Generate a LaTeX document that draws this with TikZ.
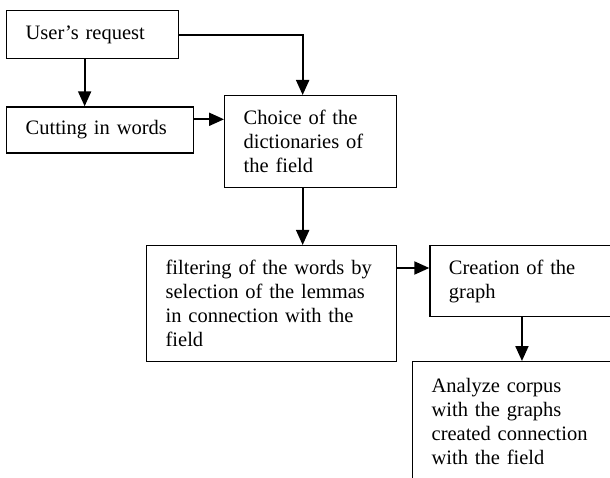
\documentclass[tikz,border=0pt]{standalone}
\usepackage{fontspec}
\setmainfont{Liberation Serif}
\usetikzlibrary{arrows.meta, positioning}

\begin{document}
\begin{tikzpicture}[x=1pt, y=-1pt,
  box/.style={draw, rectangle, line width=1.3pt, anchor=north west, align=left,
    inner xsep=19pt, inner ysep=0pt, font=\fontsize{20.5}{24}\selectfont},
  arr/.style={line width=2pt, -{Triangle[length=15pt, width=13pt]}}]
  \useasboundingbox (0,0) rectangle (610,478);
  \clip (0,0) rectangle (610,478);

  \node [box, text width=134pt, minimum width=172pt, minimum height=48pt]
  (req) at (6,10) {User's request};%
  \node [box, below=47pt of req.south west, anchor=north west,
  text width=149pt, minimum width=187pt, minimum height=46pt]
  (cut) {Cutting in words};%
  \node [box, text width=134pt, minimum width=172pt, minimum height=92pt]
  (choice) at (224,95) {Choice of the\\ dictionaries of\\ the field};%
  \node [box, text width=212pt, minimum width=250pt, minimum height=116pt]
  (filt) at (146,245) {filtering of the words by\\ selection of the lemmas\\
    in connection with the\\ field};%
  \node [box, right=32pt of filt.north east, anchor=north west,
  text width=162pt, minimum width=200pt, minimum height=71pt]
  (graph) {Creation of the\\ graph};%
  \node [box, text width=178pt, minimum width=216pt, minimum height=120pt]
  (corpus) at (412,361) {Analyze corpus\\ with the graphs\\
    created connection\\ with the field};%

  \draw [arr] ([xshift=-8pt]req.south) -- ([xshift=-8pt]req.south |- cut.north);%
  \draw [arr] (req.east) -| ([xshift=-8pt]choice.north);%
  \draw [arr] ([yshift=-13pt]cut.north east) -- ([yshift=-13pt]cut.north east -| choice.west);%
  \draw [arr] ([xshift=-8pt]choice.south) -- ([xshift=-8pt]choice.south |- filt.north);%
  \draw [arr] ([yshift=-23pt]filt.north east) -- ([yshift=-23pt]filt.north east -| graph.west);%
  \draw [arr] ([xshift=-8pt]graph.south) -- ([xshift=-8pt]graph.south |- corpus.north);%

\end{tikzpicture}
\end{document}
